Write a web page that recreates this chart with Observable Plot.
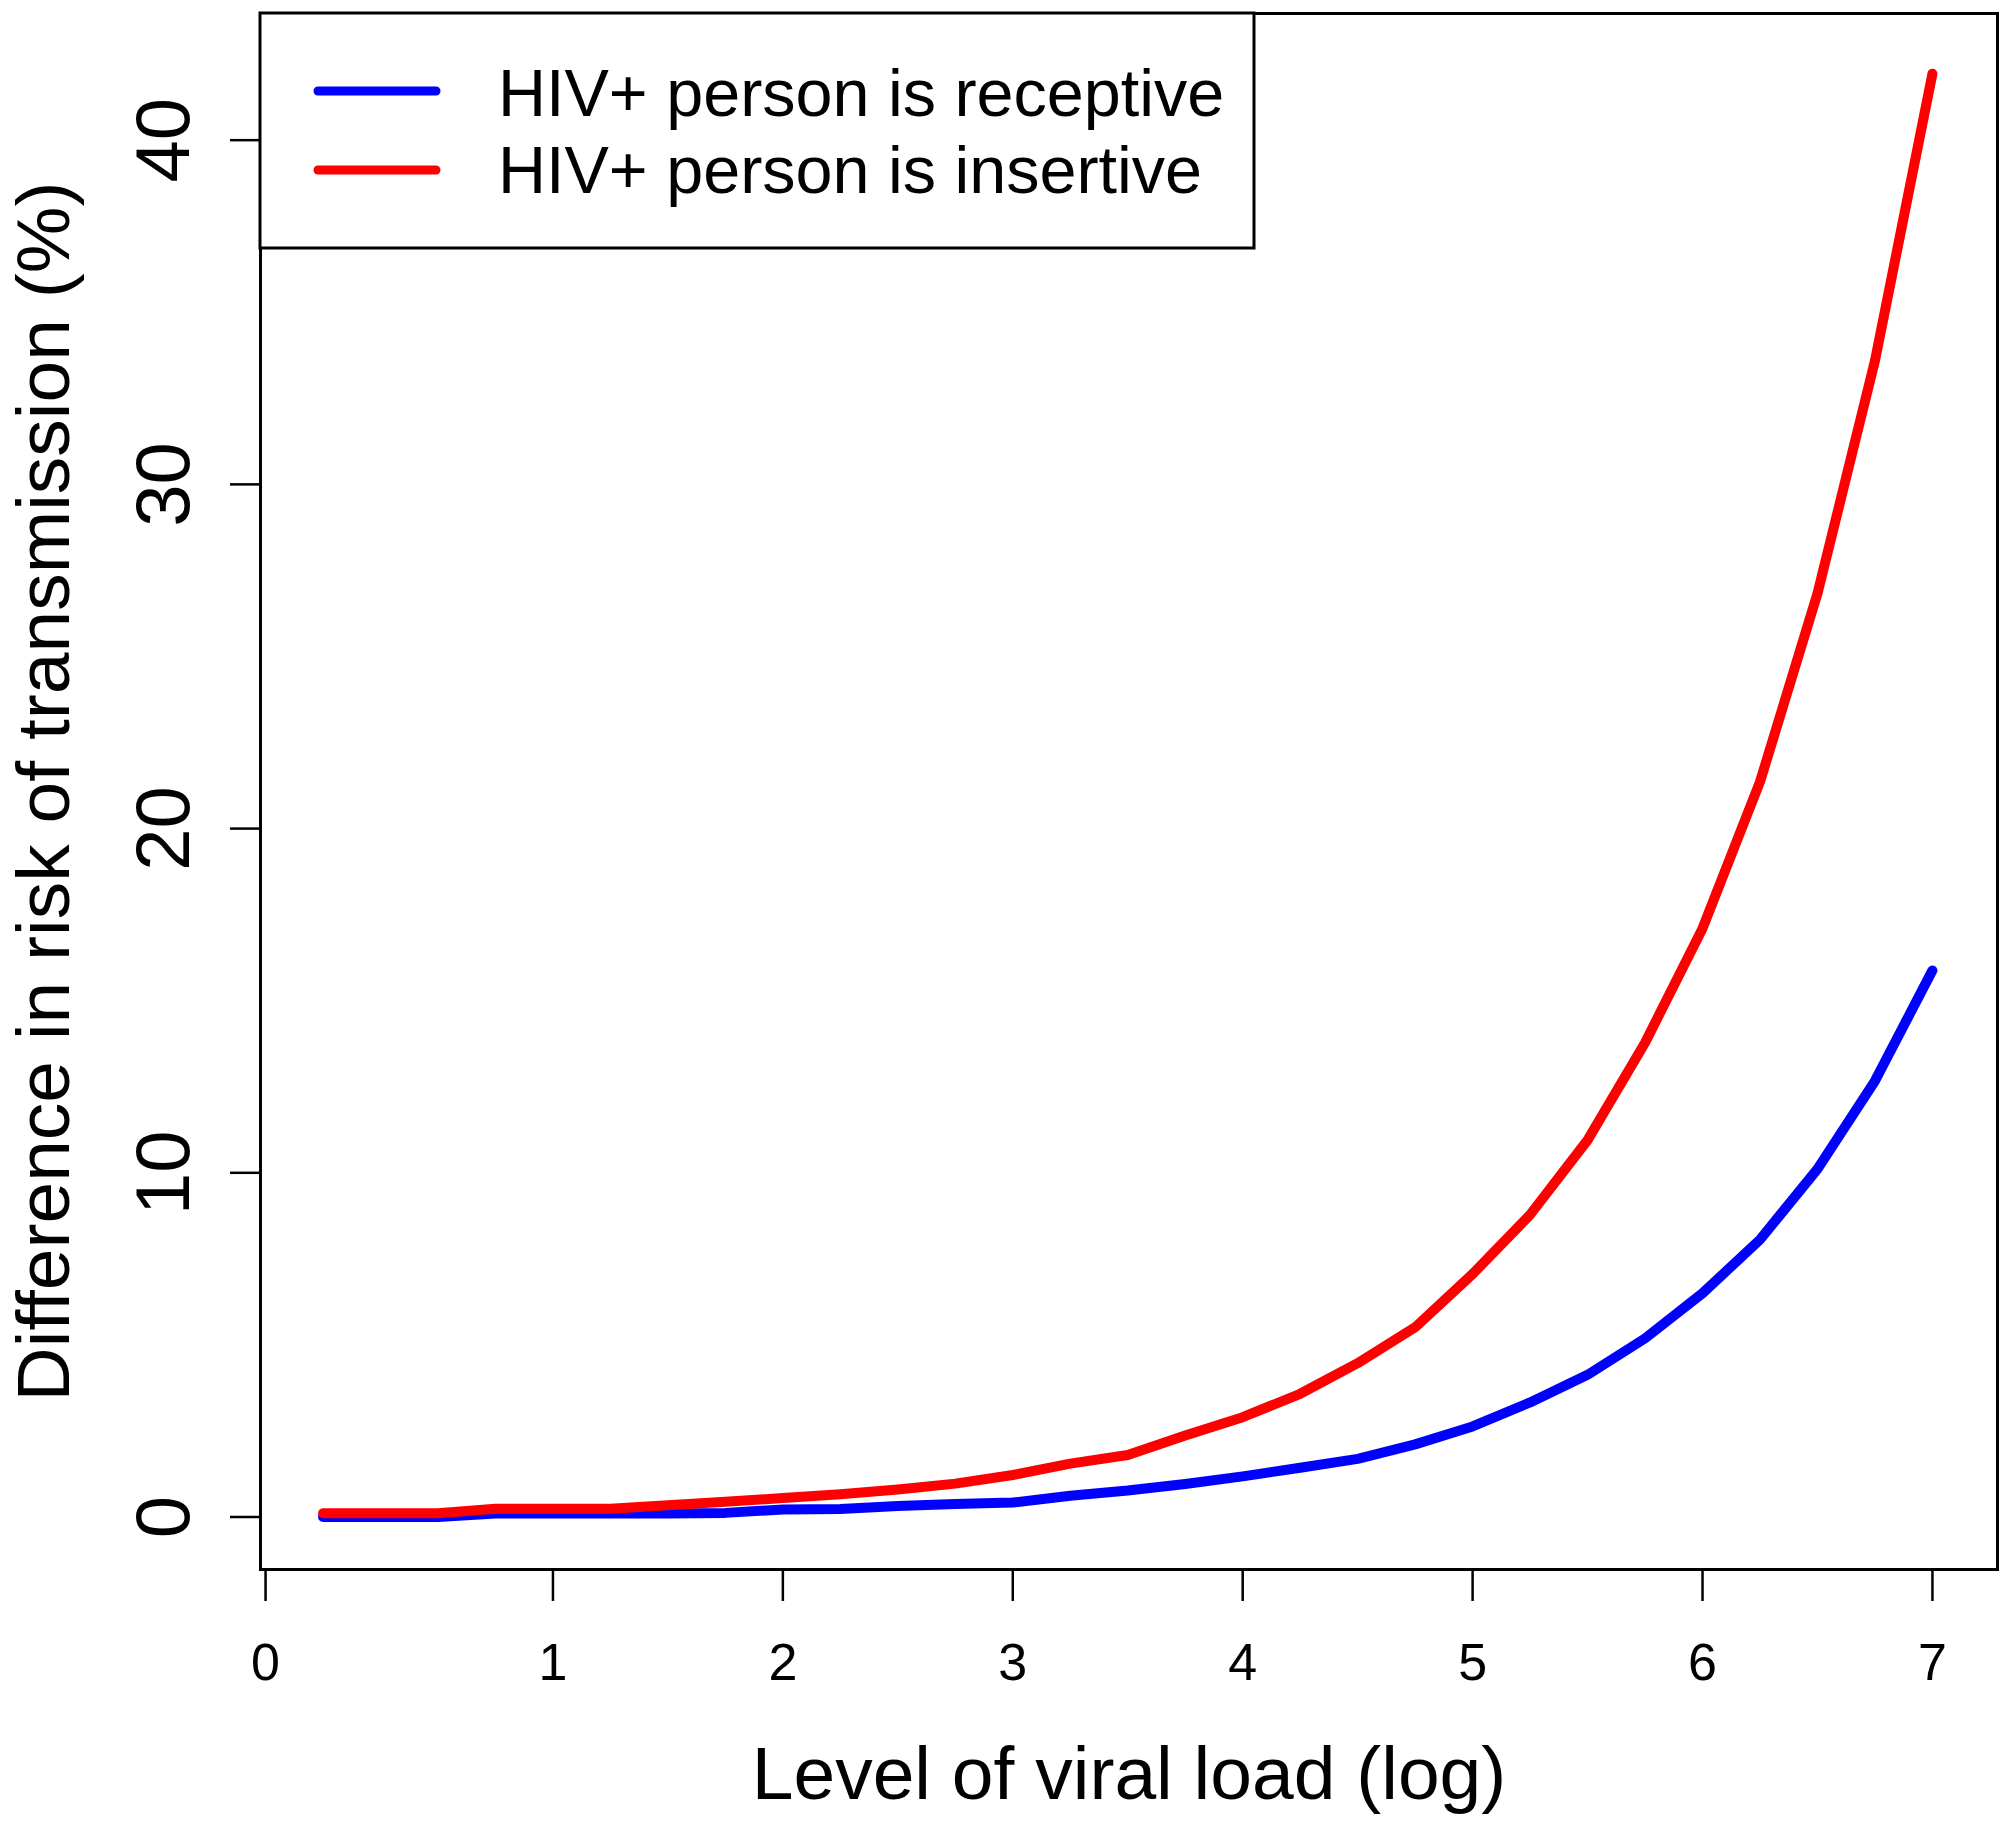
<!DOCTYPE html>
<html><head><meta charset="utf-8">
<script src="https://cdn.jsdelivr.net/npm/d3@7"></script>
<script src="https://cdn.jsdelivr.net/npm/@observablehq/plot@0.6"></script>
<style>html,body{margin:0;padding:0;background:#fff;} svg{display:block;}</style>
</head><body><div id="chart"></div>
<script>
// ---- data ----
const viralLoad = [0, 0.25, 0.5, 0.75, 1, 1.25, 1.5, 1.75, 2, 2.25, 2.5, 2.75, 3, 3.25, 3.5, 3.75, 4, 4.25, 4.5, 4.75, 5, 5.25, 5.5, 5.75, 6, 6.25, 6.5, 6.75, 7];
const receptive = [0.0, 0.0, 0.0, 0.1, 0.1, 0.1, 0.1, 0.12, 0.22, 0.23, 0.32, 0.38, 0.42, 0.62, 0.77, 0.96, 1.18, 1.43, 1.69, 2.11, 2.63, 3.33, 4.13, 5.19, 6.50, 8.06, 10.11, 12.67, 15.88];
const insertive = [0.11, 0.11, 0.11, 0.24, 0.24, 0.24, 0.34, 0.44, 0.55, 0.66, 0.80, 0.97, 1.22, 1.55, 1.80, 2.37, 2.90, 3.58, 4.47, 5.51, 7.06, 8.78, 10.95, 13.78, 17.10, 21.36, 26.83, 33.59, 41.93];
const seriesNames = ["HIV+ person is receptive", "HIV+ person is insertive"];
const seriesColors = ["#0000ff", "#ff0000"];
const xTickValues = [-0.25, 1, 2, 3, 4, 5, 6, 7];
const xTickLabels = ["0", "1", "2", "3", "4", "5", "6", "7"];
const yTickValues = [0, 10, 20, 30, 40];
const yTickLabels = ["0", "10", "20", "30", "40"];
const xTitle = "Level of viral load (log)";
const yTitle = "Difference in risk of transmission (%)";

// ---- table ----
const rows = [];
viralLoad.forEach((v, i) => rows.push({x: v, y: receptive[i], s: seriesNames[0]}));
viralLoad.forEach((v, i) => rows.push({x: v, y: insertive[i], s: seriesNames[1]}));

const font = "'Liberation Sans', Arial, Helvetica, sans-serif";
const chart = Plot.plot({
  width: 2010, height: 1825,
  marginLeft: 260, marginRight: 13, marginTop: 13, marginBottom: 256,
  style: {fontFamily: font, background: "#fff", color: "#000"},
  x: {domain: [-0.272, 7.283]},
  y: {domain: [-1.525, 43.68]},
  color: {domain: seriesNames, range: seriesColors},
  marks: [
    Plot.line(rows, {x: "x", y: "y", z: "s", stroke: "s", strokeWidth: 10, strokeLinecap: "round", strokeLinejoin: "round"}),
    Plot.frame({stroke: "#000", strokeWidth: 3}),
    Plot.axisX({ticks: xTickValues, tickFormat: d => xTickLabels[xTickValues.indexOf(d)], tickSize: 32, tickPadding: 42, fontSize: 52, strokeWidth: 2.5, label: null}),
    Plot.axisY({ticks: yTickValues, tickFormat: () => "", tickSize: 30, strokeWidth: 2.5, label: null}),
    Plot.text(yTickValues, {frameAnchor: "left", y: d => d, text: (d, i) => yTickLabels[i], dx: -72, rotate: -90, textAnchor: "middle", lineAnchor: "bottom", fontSize: 76}),
    Plot.text([xTitle], {frameAnchor: "bottom", text: d => d, dy: 229, textAnchor: "middle", lineAnchor: "bottom", fontSize: 75}),
    Plot.text([yTitle], {frameAnchor: "left", text: d => d, dx: -192, rotate: -90, textAnchor: "middle", lineAnchor: "bottom", fontSize: 75})
  ]
});
document.getElementById("chart").appendChild(chart);

// ---- legend (inside plot, top-left) ----
const svg = d3.select(chart);
const lg = svg.append("g");
lg.append("rect").attr("x", 260).attr("y", 13).attr("width", 994).attr("height", 235)
  .attr("fill", "#fff").attr("stroke", "#000").attr("stroke-width", 3);
const legendLineY = [91, 170];
const legendTextY = [116, 193];
seriesNames.forEach((name, i) => {
  lg.append("line").attr("x1", 318).attr("x2", 436).attr("y1", legendLineY[i]).attr("y2", legendLineY[i])
    .attr("stroke", seriesColors[i]).attr("stroke-width", 9).attr("stroke-linecap", "round");
  lg.append("text").attr("x", 498).attr("y", legendTextY[i]).attr("font-family", font)
    .attr("text-anchor", "start").attr("font-size", 66.5).attr("fill", "#000").text(name);
});
</script>
</body></html>
